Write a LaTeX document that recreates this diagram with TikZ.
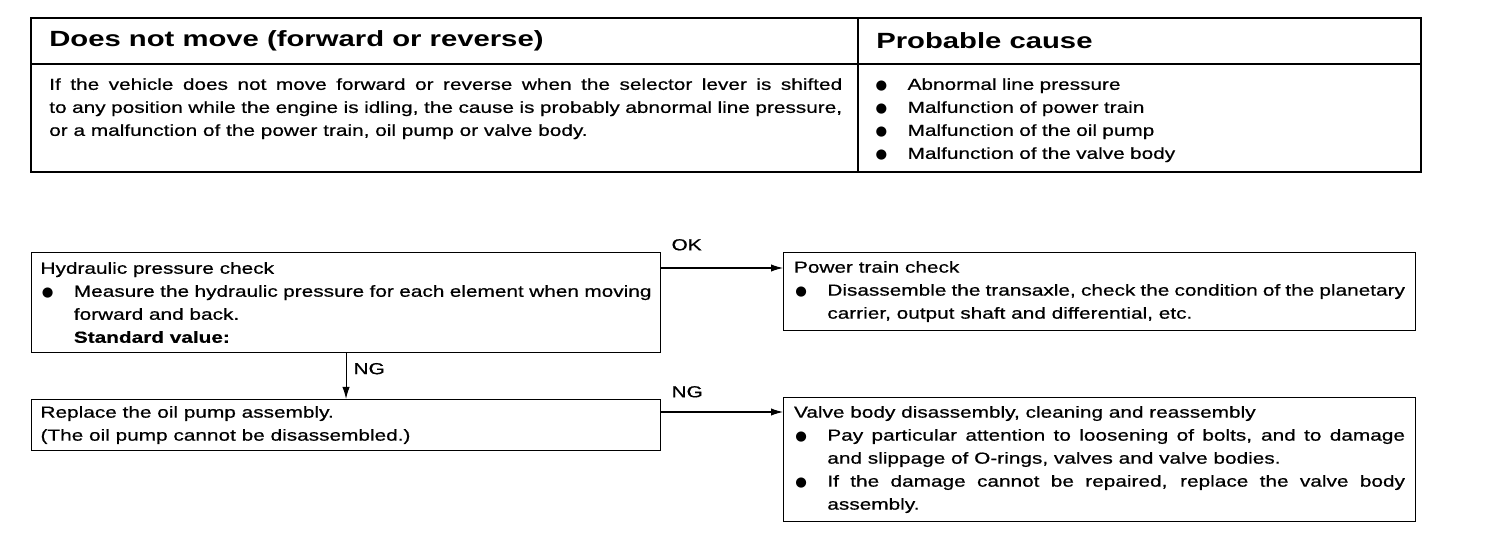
\documentclass[tikz,border=0pt]{standalone}
\usepackage{fontspec}
\setmainfont{Liberation Sans}[FakeStretch=1.3, FakeBold=0.6]
\newfontfamily\headfont{Liberation Sans}[FakeStretch=1.33]
\newfontfamily\bltfont{DejaVu Sans}
\usetikzlibrary{calc, arrows.meta}
\setlength{\parindent}{0pt}
\hyphenpenalty=10000
\exhyphenpenalty=10000

\newcommand{\bigblt}{{\bltfont\fontsize{10}{12}\selectfont ●}}
\newcommand{\bitem}[1]{\noindent\hangindent=25pt\hangafter=1\makebox[25pt][l]{\hspace{1pt}\bigblt}#1\par}

\tikzset{
  flowbox/.style={draw, line width=0.8pt, anchor=north west, text width=458.25pt, align=justify, inner sep=0pt, font=\fontsize{12}{17.25}\selectfont},
  tblhead/.style={anchor=west, inner sep=0pt, font=\headfont\bfseries\fontsize{16.5}{18}\selectfont},
  tbltext/.style={anchor=north west, inner sep=0pt, font=\fontsize{12}{17.25}\selectfont},
  lbl/.style={inner sep=0pt, font=\fontsize{12}{14}\selectfont},
}

\begin{document}
\begin{tikzpicture}[x=0.75pt, y=0.75pt, >={Latex[length=9pt,width=5.5pt]}]
    \useasboundingbox (0,0) rectangle (1504,-538);

    % 1. Table with symptom and probable cause
    \draw[line width=2pt] (31,-18) rectangle (1421,-172);
    \draw[line width=0.8pt] (31,-64) -- (1421,-64);
    \draw[line width=0.8pt] (858,-18) -- (858,-172);
    \node[tblhead] (title) at (49,-41) {Does not move (forward or reverse)};
    \node[tblhead] (cause) at (876,-41) {Probable cause};
    \node[tbltext, text width=594.75pt, align=justify] (descr) at (49,-78)
        {If the vehicle does not move forward or reverse when the selector lever is shifted\linebreak
         to any position while the engine is idling, the cause is probably abnormal line pressure,\linebreak
         or a malfunction of the power train, oil pump or valve body.};
    \node[tbltext, text width=400pt, align=left] (causes) at (874,-78)
        {\bitem{Abnormal line pressure}\bitem{Malfunction of power train}%
         \bitem{Malfunction of the oil pump}\bitem{Malfunction of the valve body}};

    % 2. Check boxes
    \node[flowbox, minimum width=471.75pt, minimum height=75pt] (hyd) at (31,-252)
        {Hydraulic pressure check\par
         \bitem{Measure the hydraulic pressure for each element when moving\linebreak
         forward and back.\newline\textbf{Standard value:}}};
    \node[flowbox, minimum width=471.75pt, minimum height=38.25pt] (rep) at (31,-399)
        {Replace the oil pump assembly.\par (The oil pump cannot be disassembled.)};
    \node[flowbox, minimum width=474pt, minimum height=58.5pt] (ptc) at (783,-252)
        {Power train check\par
         \bitem{Disassemble the transaxle, check the condition of the planetary\linebreak
         carrier, output shaft and differential, etc.}};
    \node[flowbox, minimum width=474pt, minimum height=93pt] (vbd) at (783,-397)
        {Valve body disassembly, cleaning and reassembly\par
         \bitem{Pay particular attention to loosening of bolts, and to damage\linebreak
         and slippage of O-rings, valves and valve bodies.}
         \bitem{If the damage cannot be repaired, replace the valve body\linebreak assembly.}};

    % 3. Arrows with OK / NG
    \draw[->, line width=0.8pt] ($(hyd.north east)+(0,-16)$) coordinate (oks) -- (oks -| ptc.west)
        node[lbl, pos=0, anchor=south west, xshift=7.5pt, yshift=12.75pt] {OK};
    \draw[->, line width=0.8pt] (hyd.south) -- (rep.north)
        node[lbl, pos=0.34, anchor=west, xshift=5.25pt] {NG};
    \draw[->, line width=0.8pt] ($(rep.north east)+(0,-13)$) coordinate (ngs) -- (ngs -| vbd.west)
        node[lbl, pos=0, anchor=south west, xshift=7.5pt, yshift=10.5pt] {NG};
\end{tikzpicture}
\end{document}
